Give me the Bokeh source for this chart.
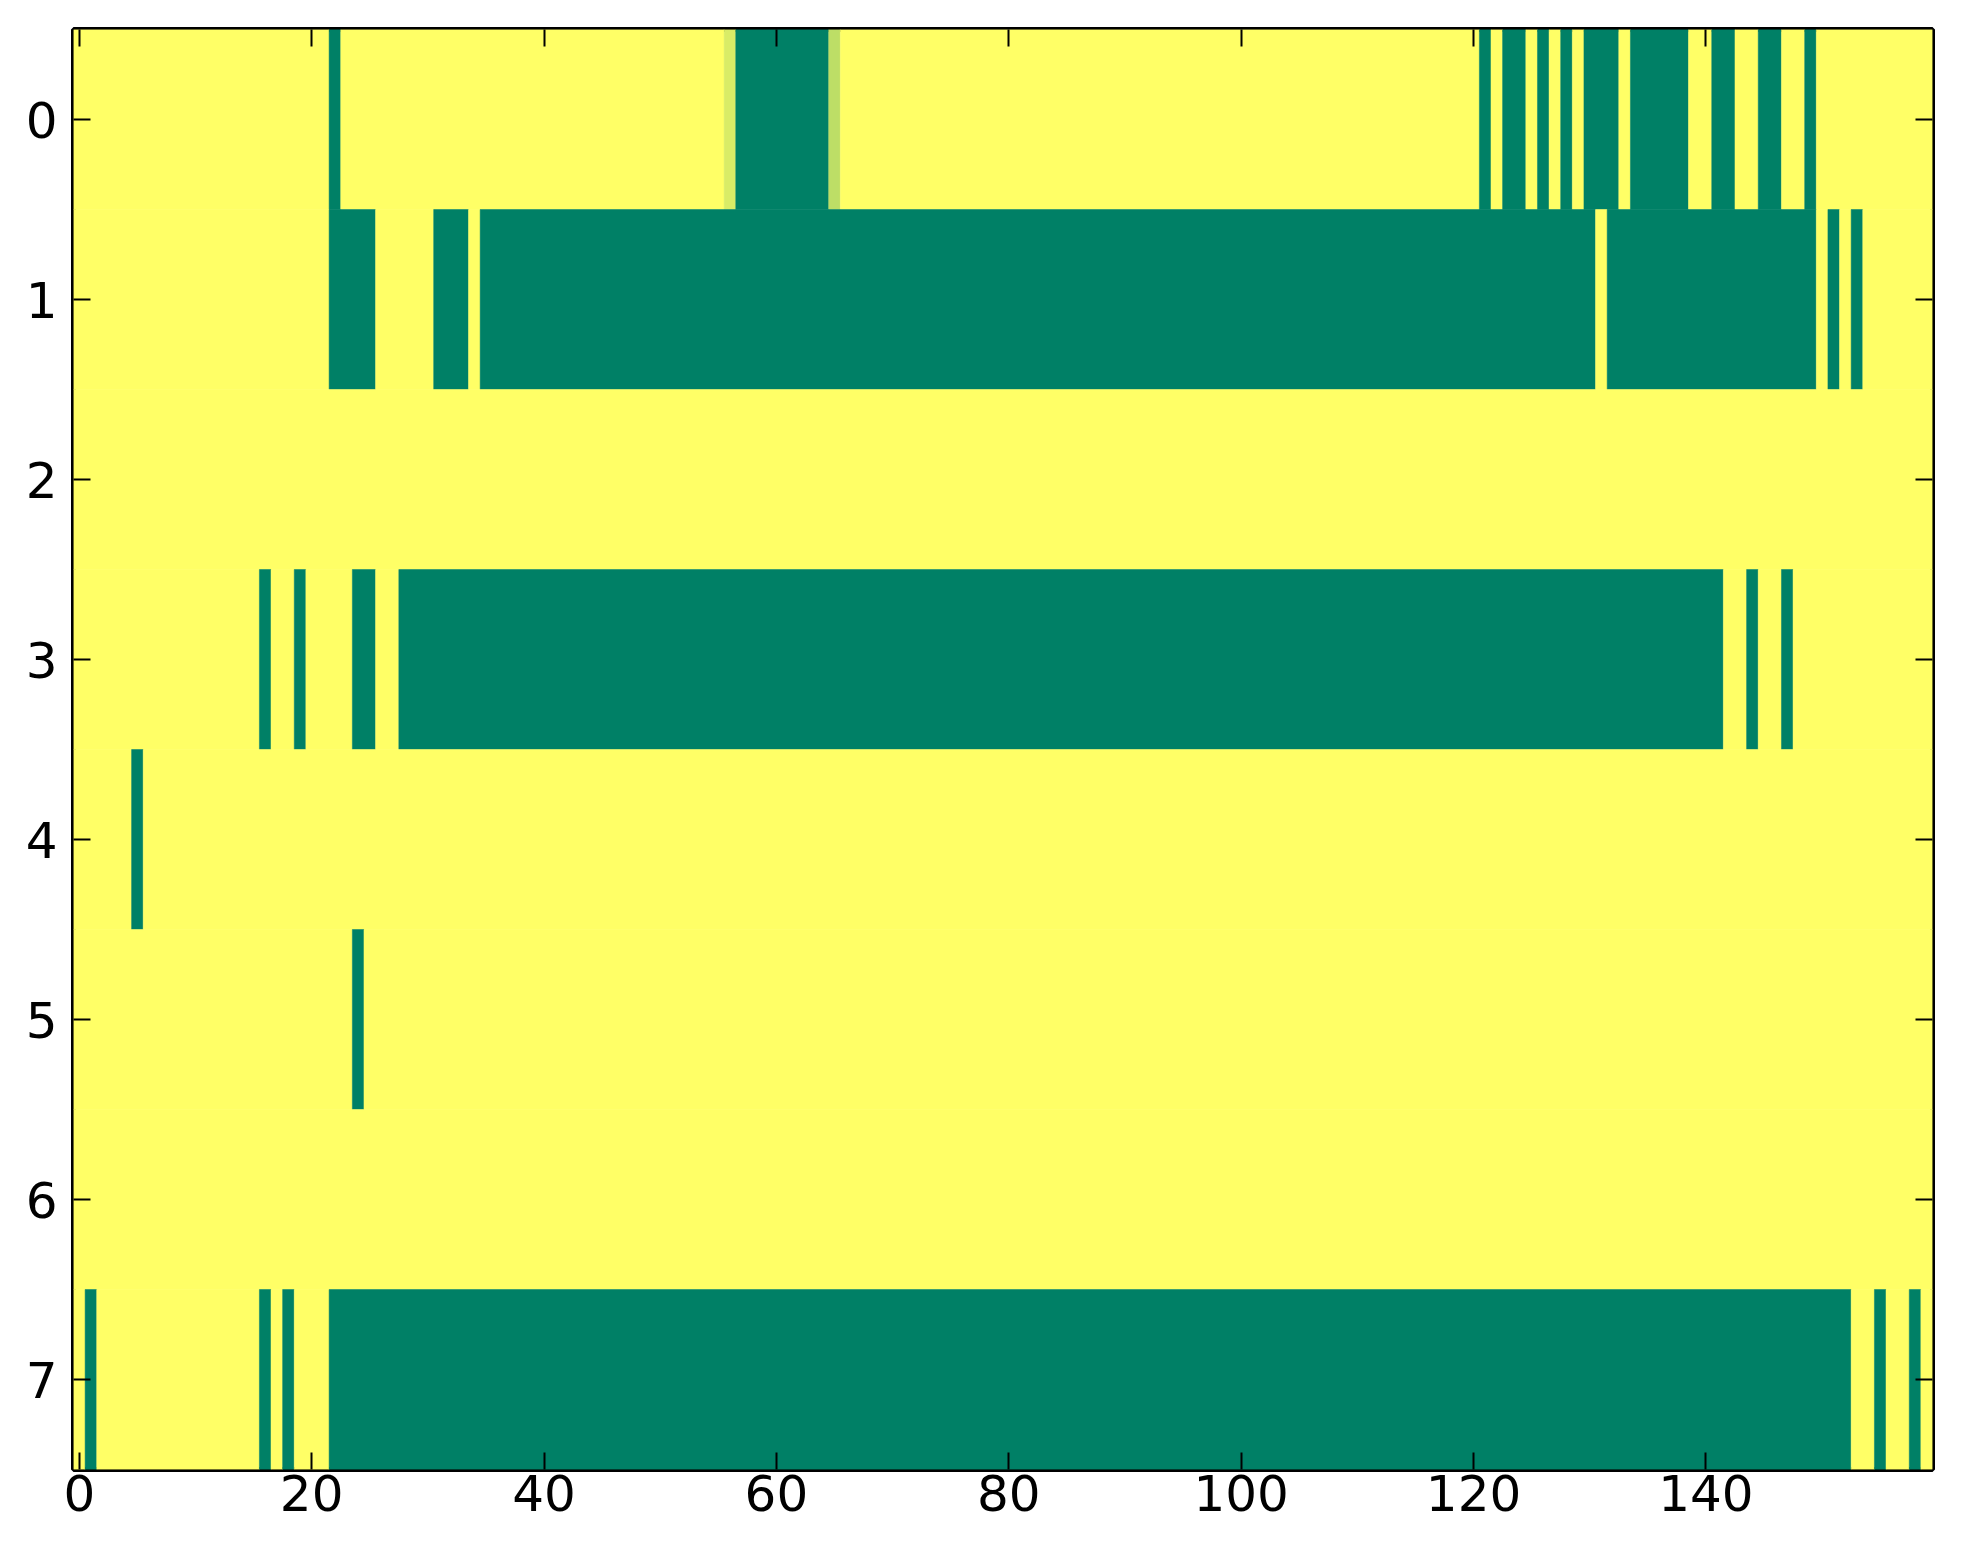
import numpy as np
from bokeh.plotting import figure
from bokeh.models import Range1d, FixedTicker, LinearAxis, ColumnDataSource
from bokeh.transform import linear_cmap
from bokeh.embed import file_html
from bokeh.resources import INLINE

# ---------------- data ----------------
N_ROWS = 8
N_COLS = 160
x_ticks = [0, 20, 40, 60, 80, 100, 120, 140]
y_ticks = [0, 1, 2, 3, 4, 5, 6, 7]

# columns (inclusive ranges) whose value is 0 (green); everything else is 1 (yellow)
row0_low = [(22, 22), (57, 64), (121, 121), (123, 124), (126, 126), (128, 128),
            (130, 132), (134, 138), (141, 142), (145, 146), (149, 149)]
row1_low = [(22, 25), (31, 33), (35, 130), (132, 149), (151, 151), (153, 153)]
row2_low = []
row3_low = [(16, 16), (19, 19), (24, 25), (28, 141), (144, 144), (147, 147)]
row4_low = [(5, 5)]
row5_low = [(24, 24)]
row6_low = []
row7_low = [(1, 1), (16, 16), (18, 18), (22, 152), (155, 155), (158, 158)]

# intermediate values in row 0
row0_partial_cols = [56, 65]
row0_partial_vals = [0.85, 0.74]

low_runs = [row0_low, row1_low, row2_low, row3_low, row4_low, row5_low, row6_low, row7_low]

values = np.ones((N_ROWS, N_COLS))
for r, runs in enumerate(low_runs):
    for a, b in runs:
        values[r, a:b + 1] = 0.0
for c, v in zip(row0_partial_cols, row0_partial_vals):
    values[0, c] = v

# merge equal neighbouring cells into runs
left, right, top, bottom, val = [], [], [], [], []
for r in range(N_ROWS):
    c = 0
    while c < N_COLS:
        e = c
        while e + 1 < N_COLS and values[r, e + 1] == values[r, c]:
            e += 1
        left.append(c - 0.5)
        right.append(e + 0.5)
        top.append(r - 0.5)
        bottom.append(r + 0.5)
        val.append(float(values[r, c]))
        c = e + 1

src = ColumnDataSource(dict(left=left, right=right, top=top, bottom=bottom, v=val))

# matplotlib "summer" colormap
summer = []
for i in range(256):
    t = i / 255.0
    summer.append("#%02x%02x%02x" % (int(round(255 * t)), int(round(255 * (0.5 + 0.5 * t))), 102))

cmap = linear_cmap("v", summer, 0.0, 1.0)

# ---------------- figure ----------------
p = figure(width=1952, height=1553,
           x_range=Range1d(-0.5, N_COLS - 0.5), y_range=Range1d(N_ROWS - 0.5, -0.5),
           output_backend="svg", toolbar_location=None,
           min_border_left=73, min_border_right=20, min_border_top=29, min_border_bottom=84)
p.grid.visible = False
p.background_fill_color = "white"
p.border_fill_color = "white"
p.outline_line_color = "black"
p.outline_line_width = 5

p.quad(left="left", right="right", top="top", bottom="bottom", source=src,
       fill_color=cmap, line_color=cmap, line_width=0.5)

p.add_layout(LinearAxis(), "above")
p.add_layout(LinearAxis(), "right")

for ax in p.xaxis:
    ax.ticker = FixedTicker(ticks=x_ticks)
for ax in p.yaxis:
    ax.ticker = FixedTicker(ticks=y_ticks)

for ax in p.xaxis + p.yaxis:
    ax.major_tick_in = 17
    ax.major_tick_out = 0
    ax.minor_tick_in = 0
    ax.minor_tick_out = 0
    ax.major_tick_line_width = 2
    ax.major_tick_line_color = "black"
    ax.axis_line_color = None
    ax.major_label_text_font = "DejaVu Sans"
    ax.major_label_text_font_size = "50px"
    ax.major_label_text_color = "black"

p.xaxis[0].major_label_standoff = 12
p.yaxis[0].major_label_standoff = 16

for ax in (p.above[0], p.right[0]):
    ax.major_label_text_font_size = "0px"
    ax.major_label_standoff = 0

p.above[0].major_label_overrides = {t: "" for t in x_ticks}
p.right[0].major_label_overrides = {t: "" for t in y_ticks}

open("out.html", "w").write(file_html(p, INLINE))
